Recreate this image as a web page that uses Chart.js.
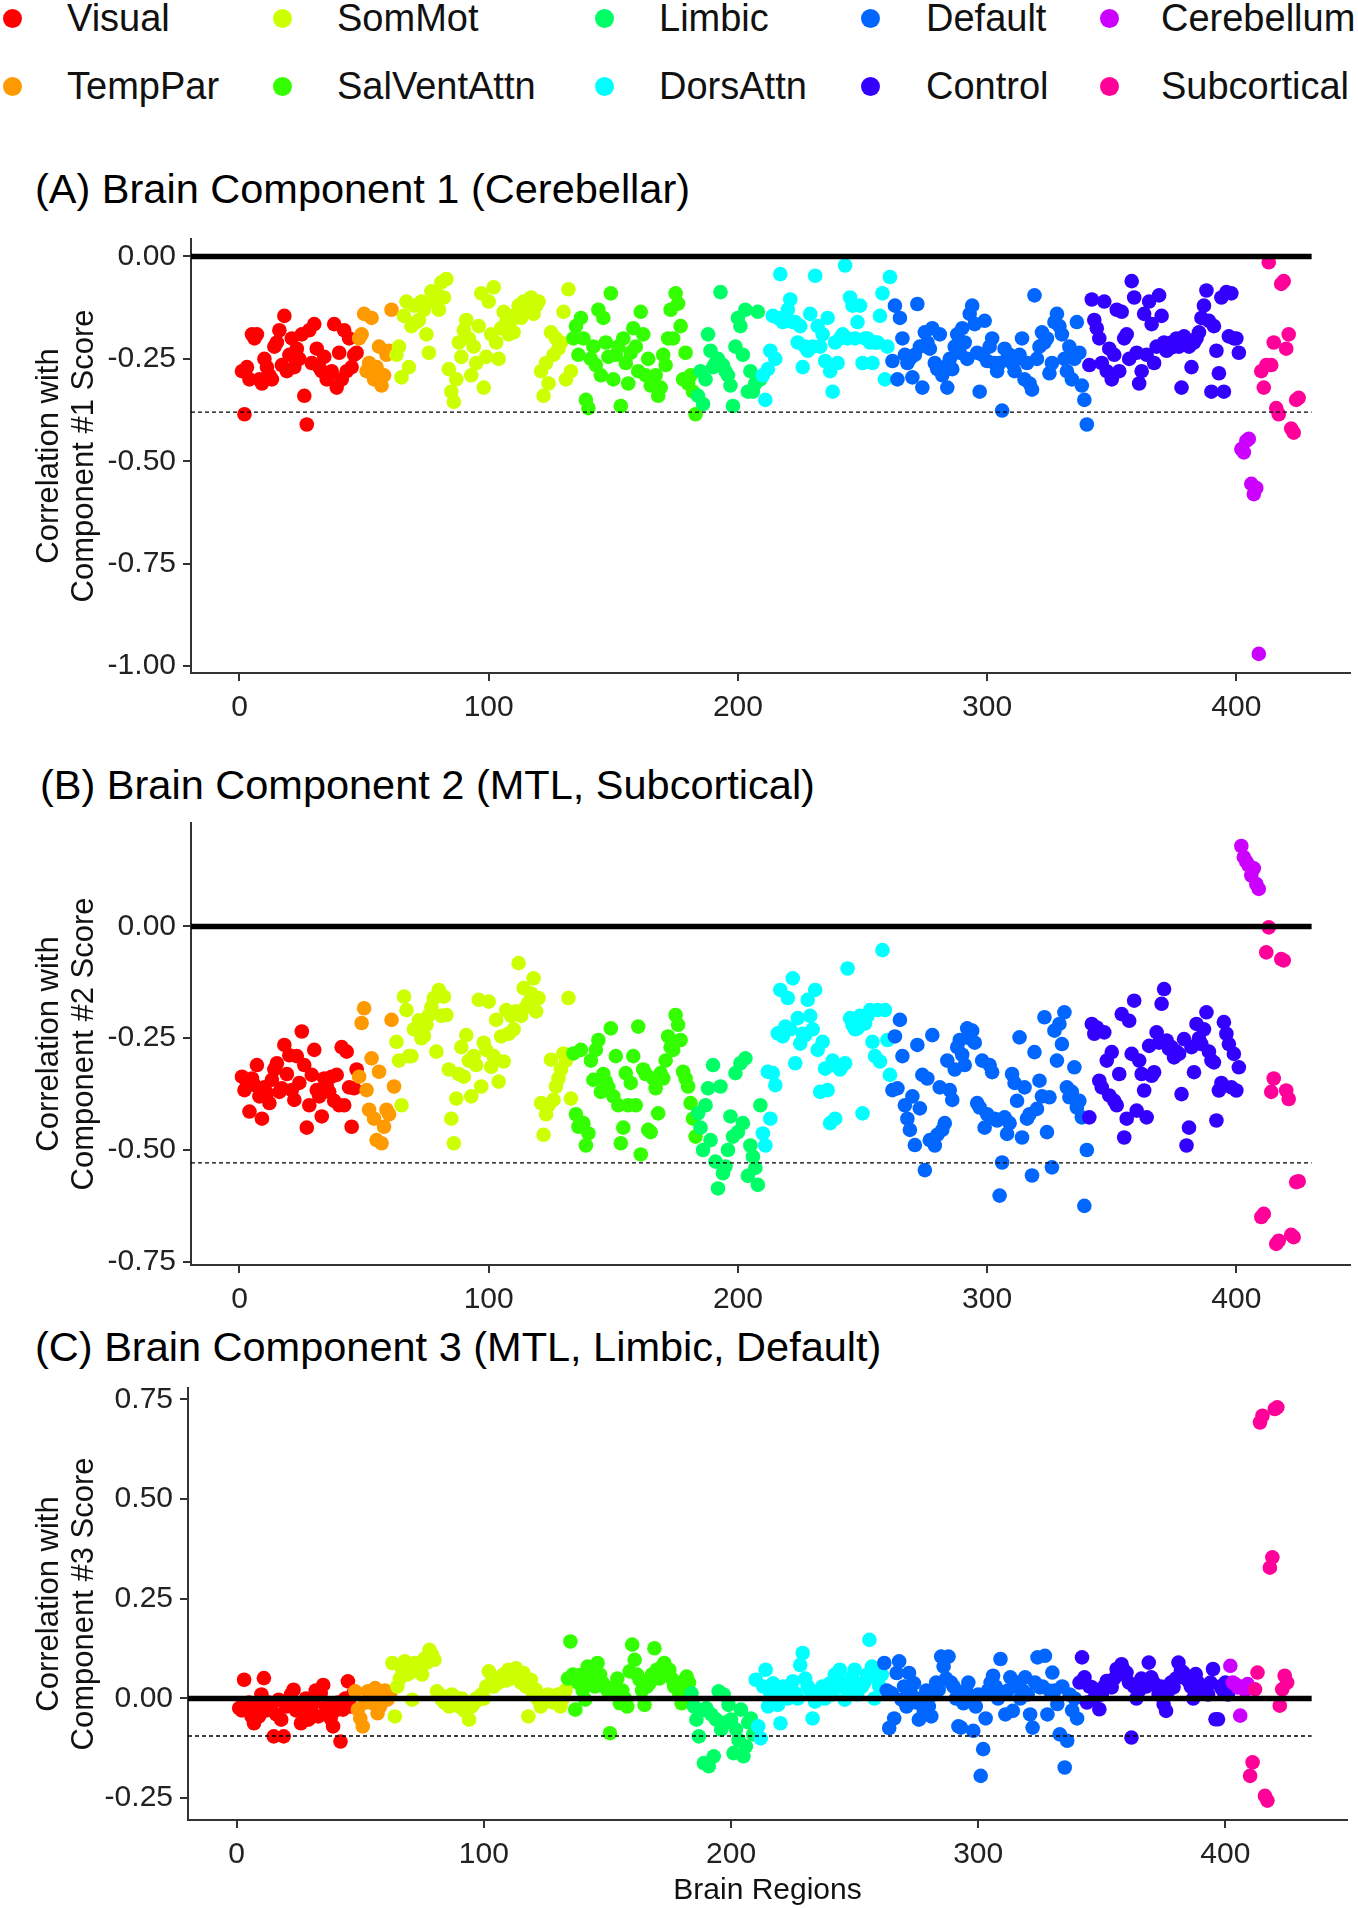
<!DOCTYPE html>
<html>
<head>
<meta charset="utf-8">
<script src="https://cdn.jsdelivr.net/npm/chart.js@4.4.1/dist/chart.umd.min.js"></script>
<style>
body { margin: 0; background: #fff; font-family: "Liberation Sans", Arial, sans-serif; }
#page { position: relative; width: 1358px; height: 1908px; overflow: hidden; }
canvas { position: absolute; left: 0; }
.title { position: absolute; font-size: 41.5px; line-height: 41px; color: #000; white-space: nowrap; }
.leg_text { position: absolute; font-size: 38px; line-height: 38px; color: #111; white-space: nowrap; }
.leg_dot { position: absolute; width: 19px; height: 19px; border-radius: 50%; }
</style>
</head>
<body>
<div id="page">
  <div class="title" style="left:35px;top:168px">(A) Brain Component 1 (Cerebellar)</div>
  <div class="title" style="left:40px;top:764px">(B) Brain Component 2 (MTL, Subcortical)</div>
  <div class="title" style="left:35px;top:1326px">(C) Brain Component 3 (MTL, Limbic, Default)</div>
  <canvas id="chart1" width="1358" height="540" style="top:199px"></canvas>
  <canvas id="chart2" width="1358" height="548" style="top:783px"></canvas>
  <canvas id="chart3" width="1358" height="560" style="top:1348px"></canvas>
</div>
<script>
// networks, in the order they run along the x axis
const networks = ['Visual', 'TempPar', 'SomMot', 'SalVentAttn', 'Limbic', 'DorsAttn', 'Default', 'Control', 'Cerebellum', 'Subcortical'];
const network_colors = ['#FF0000', '#FF9900', '#CCFF00', '#33FF00', '#00FF66', '#00FFFF', '#0066FF', '#3300FF', '#CC00FF', '#FF0099'];

// correlation of each brain region with component score, one list per network
const comp1 = [
  [-0.28,-0.385,-0.27,-0.30,-0.19,-0.20,-0.19,-0.30,-0.31,-0.25,-0.27,-0.29,-0.30,-0.22,-0.21,-0.18,-0.265,-0.145,-0.28,-0.24,-0.20,-0.27,-0.225,-0.25,-0.19,-0.34,-0.41,-0.18,-0.26,-0.165,-0.225,-0.27,-0.28,-0.245,-0.30,-0.29,-0.28,-0.165,-0.32,-0.235,-0.30,-0.18,-0.28,-0.20,-0.27,-0.24,-0.235],
  [-0.20,-0.19,-0.14,-0.28,-0.26,-0.15,-0.30,-0.27,-0.22,-0.315,-0.29,-0.24,-0.23,-0.13,-0.235],
  [-0.24,-0.22,-0.295,-0.145,-0.11,-0.27,-0.17,-0.12,-0.16,-0.155,-0.11,-0.13,-0.19,-0.235,-0.085,-0.11,-0.09,-0.13,-0.063,-0.10,-0.055,-0.275,-0.33,-0.355,-0.30,-0.21,-0.245,-0.18,-0.155,-0.20,-0.29,-0.22,-0.26,-0.17,-0.09,-0.32,-0.245,-0.11,-0.19,-0.075,-0.21,-0.25,-0.175,-0.135,-0.16,-0.19,-0.155,-0.185,-0.14,-0.12,-0.15,-0.11,-0.13,-0.12,-0.10,-0.14,-0.12,-0.11,-0.28,-0.34,-0.26,-0.31,-0.185,-0.24,-0.20,-0.225,-0.21,-0.135,-0.30,-0.08,-0.28],
  [-0.20,-0.17,-0.24,-0.15,-0.20,-0.35,-0.37,-0.25,-0.22,-0.265,-0.13,-0.29,-0.15,-0.21,-0.245,-0.09,-0.30,-0.24,-0.22,-0.365,-0.20,-0.26,-0.31,-0.235,-0.175,-0.22,-0.28,-0.135,-0.19,-0.29,-0.25,-0.315,-0.30,-0.29,-0.34,-0.32,-0.24,-0.265,-0.20,-0.13,-0.20,-0.09,-0.115,-0.17,-0.30,-0.235,-0.31,-0.29,-0.33,-0.385],
  [-0.34,-0.28,-0.36,-0.30,-0.19,-0.23,-0.27,-0.26,-0.25,-0.087,-0.265,-0.28,-0.29,-0.315,-0.365,-0.22,-0.15,-0.17,-0.24,-0.13,-0.33,-0.28,-0.33,-0.31,-0.135,-0.30],
  [-0.29,-0.35,-0.275,-0.23,-0.145,-0.25,-0.15,-0.043,-0.16,-0.15,-0.13,-0.105,-0.16,-0.16,-0.21,-0.17,-0.27,-0.22,-0.23,-0.14,-0.22,-0.047,-0.17,-0.22,-0.19,-0.255,-0.15,-0.28,-0.33,-0.21,-0.26,-0.20,-0.19,-0.022,-0.20,-0.10,-0.12,-0.20,-0.16,-0.12,-0.26,-0.20,-0.20,-0.21,-0.26,-0.21,-0.21,-0.145,-0.09,-0.30,-0.22,-0.05],
  [-0.255,-0.12,-0.30,-0.15,-0.20,-0.24,-0.26,-0.25,-0.295,-0.24,-0.116,-0.22,-0.32,-0.185,-0.21,-0.225,-0.175,-0.26,-0.275,-0.19,-0.29,-0.27,-0.32,-0.25,-0.275,-0.22,-0.19,-0.235,-0.175,-0.21,-0.25,-0.14,-0.12,-0.165,-0.235,-0.33,-0.24,-0.157,-0.255,-0.22,-0.20,-0.26,-0.28,-0.26,-0.376,-0.225,-0.25,-0.24,-0.26,-0.28,-0.25,-0.24,-0.20,-0.30,-0.26,-0.31,-0.325,-0.095,-0.25,-0.22,-0.185,-0.21,-0.20,-0.285,-0.26,-0.16,-0.14,-0.17,-0.19,-0.25,-0.28,-0.22,-0.30,-0.25,-0.16,-0.235,-0.315,-0.35,-0.41],
  [-0.265,-0.105,-0.155,-0.175,-0.20,-0.26,-0.11,-0.28,-0.225,-0.30,-0.24,-0.13,-0.28,-0.135,-0.20,-0.19,-0.25,-0.06,-0.10,-0.235,-0.31,-0.28,-0.14,-0.24,-0.11,-0.165,-0.26,-0.22,-0.095,-0.145,-0.21,-0.23,-0.225,-0.21,-0.22,-0.20,-0.22,-0.32,-0.195,-0.21,-0.22,-0.27,-0.21,-0.20,-0.185,-0.15,-0.12,-0.083,-0.157,-0.33,-0.17,-0.23,-0.285,-0.10,-0.33,-0.087,-0.195,-0.09,-0.20,-0.20,-0.235],
  [-0.47,-0.478,-0.45,-0.445,-0.555,-0.58,-0.565,-0.97],
  [-0.28,-0.32,-0.265,-0.014,-0.265,-0.21,-0.37,-0.385,-0.067,-0.06,-0.225,-0.19,-0.42,-0.43,-0.35,-0.345]
];
const comp2 = [
  [-0.336,-0.366,-0.35,-0.414,-0.34,-0.355,-0.31,-0.38,-0.43,-0.36,-0.373,-0.395,-0.343,-0.32,-0.306,-0.37,-0.362,-0.265,-0.33,-0.288,-0.366,-0.388,-0.29,-0.35,-0.235,-0.31,-0.45,-0.40,-0.332,-0.276,-0.366,-0.38,-0.425,-0.34,-0.358,-0.37,-0.336,-0.39,-0.332,-0.40,-0.27,-0.40,-0.28,-0.36,-0.448,-0.362,-0.32],
  [-0.336,-0.216,-0.183,-0.366,-0.41,-0.295,-0.43,-0.478,-0.325,-0.485,-0.448,-0.41,-0.42,-0.209,-0.358],
  [-0.258,-0.30,-0.40,-0.157,-0.187,-0.29,-0.29,-0.23,-0.228,-0.21,-0.25,-0.245,-0.22,-0.198,-0.18,-0.16,-0.28,-0.142,-0.20,-0.157,-0.198,-0.32,-0.43,-0.485,-0.385,-0.33,-0.27,-0.336,-0.243,-0.30,-0.38,-0.29,-0.31,-0.164,-0.358,-0.26,-0.276,-0.168,-0.314,-0.29,-0.209,-0.347,-0.246,-0.302,-0.187,-0.24,-0.20,-0.23,-0.19,-0.082,-0.20,-0.138,-0.18,-0.17,-0.15,-0.116,-0.19,-0.16,-0.395,-0.466,-0.42,-0.40,-0.298,-0.388,-0.358,-0.34,-0.32,-0.284,-0.30,-0.16,-0.385],
  [-0.284,-0.42,-0.448,-0.276,-0.44,-0.49,-0.463,-0.30,-0.343,-0.276,-0.254,-0.37,-0.33,-0.347,-0.36,-0.228,-0.38,-0.29,-0.40,-0.485,-0.45,-0.328,-0.40,-0.35,-0.29,-0.40,-0.224,-0.51,-0.32,-0.33,-0.455,-0.46,-0.34,-0.362,-0.418,-0.328,-0.34,-0.30,-0.246,-0.27,-0.276,-0.198,-0.22,-0.254,-0.325,-0.34,-0.358,-0.395,-0.43,-0.47],
  [-0.418,-0.45,-0.50,-0.40,-0.362,-0.478,-0.31,-0.526,-0.586,-0.358,-0.552,-0.537,-0.50,-0.425,-0.47,-0.328,-0.46,-0.306,-0.44,-0.295,-0.558,-0.49,-0.515,-0.54,-0.578,-0.40],
  [-0.463,-0.49,-0.325,-0.43,-0.328,-0.355,-0.239,-0.142,-0.246,-0.224,-0.16,-0.23,-0.116,-0.306,-0.205,-0.262,-0.24,-0.243,-0.164,-0.20,-0.23,-0.142,-0.276,-0.37,-0.258,-0.318,-0.366,-0.44,-0.30,-0.43,-0.314,-0.32,-0.31,-0.306,-0.094,-0.205,-0.22,-0.23,-0.228,-0.20,-0.418,-0.217,-0.20,-0.187,-0.258,-0.29,-0.187,-0.302,-0.053,-0.187,-0.254,-0.332],
  [-0.366,-0.246,-0.362,-0.209,-0.29,-0.40,-0.43,-0.455,-0.38,-0.489,-0.265,-0.407,-0.332,-0.545,-0.34,-0.478,-0.243,-0.49,-0.466,-0.36,-0.455,-0.44,-0.30,-0.366,-0.388,-0.32,-0.27,-0.254,-0.287,-0.31,-0.228,-0.25,-0.233,-0.26,-0.395,-0.405,-0.30,-0.45,-0.42,-0.31,-0.326,-0.43,-0.434,-0.602,-0.528,-0.427,-0.464,-0.44,-0.33,-0.35,-0.39,-0.248,-0.472,-0.36,-0.43,-0.42,-0.557,-0.281,-0.408,-0.345,-0.38,-0.203,-0.46,-0.382,-0.539,-0.233,-0.30,-0.218,-0.263,-0.192,-0.36,-0.382,-0.37,-0.315,-0.405,-0.39,-0.427,-0.625,-0.50],
  [-0.427,-0.218,-0.24,-0.226,-0.345,-0.36,-0.237,-0.30,-0.378,-0.281,-0.39,-0.40,-0.33,-0.196,-0.472,-0.43,-0.211,-0.285,-0.166,-0.412,-0.30,-0.33,-0.367,-0.427,-0.267,-0.334,-0.326,-0.237,-0.26,-0.173,-0.14,-0.255,-0.274,-0.27,-0.293,-0.28,-0.285,-0.375,-0.252,-0.49,-0.45,-0.27,-0.326,-0.218,-0.25,-0.263,-0.23,-0.192,-0.28,-0.30,-0.304,-0.434,-0.367,-0.35,-0.214,-0.24,-0.263,-0.36,-0.285,-0.367,-0.315],
  [0.18,0.155,0.145,0.136,0.114,0.13,0.095,0.084],
  [-0.65,-0.643,-0.058,-0.002,-0.37,-0.34,-0.71,-0.703,-0.073,-0.076,-0.367,-0.386,-0.69,-0.695,-0.572,-0.57]
];
const comp3 = [
  [-0.024,-0.03,0.047,-0.028,-0.01,-0.045,-0.062,-0.012,-0.045,0.01,0.051,-0.03,-0.01,-0.028,-0.095,-0.04,-0.003,-0.053,-0.095,-0.02,-0.003,0.01,0.022,-0.03,-0.02,-0.062,-0.04,0.0,-0.053,-0.03,-0.012,0.02,-0.045,0.013,0.034,-0.02,-0.012,-0.05,-0.07,-0.03,-0.01,-0.108,-0.028,0.0,0.043,-0.02,0.01],
  [0.018,-0.028,-0.05,-0.07,-0.01,0.018,0.0,-0.012,0.026,-0.037,-0.02,0.018,0.02,-0.003,0.01],
  [0.089,-0.045,0.03,0.05,0.07,0.093,0.06,0.064,-0.003,0.089,0.07,0.08,0.06,0.1,0.09,0.122,0.11,0.097,0.018,0.01,-0.003,-0.01,0.0,-0.02,0.01,0.005,-0.01,-0.02,0.0,-0.03,-0.01,-0.053,-0.02,-0.012,0.0,-0.003,0.01,0.0,0.03,0.068,0.04,0.03,0.05,0.04,0.055,0.06,0.045,0.072,0.05,0.06,0.076,0.05,0.04,0.064,0.03,-0.045,0.047,0.01,0.022,-0.003,-0.02,-0.01,-0.003,0.01,0.0,-0.01,0.0,0.01,-0.02,0.0,0.02],
  [0.05,0.143,0.06,-0.028,0.04,0.059,0.02,-0.003,0.08,0.05,0.06,0.03,0.089,0.06,0.04,0.03,0.02,-0.087,0.013,0.03,0.05,-0.012,0.02,0.0,-0.02,0.068,0.135,0.097,0.06,0.047,0.02,-0.016,0.03,0.038,0.06,0.126,0.072,0.05,0.08,0.089,0.06,0.072,0.05,0.03,0.04,0.013,-0.012,0.02,0.055,0.04],
  [0.013,-0.02,-0.053,-0.095,-0.03,-0.162,-0.024,-0.17,-0.04,-0.145,-0.053,0.018,-0.078,0.01,-0.06,-0.016,-0.053,-0.137,-0.078,-0.104,-0.028,-0.145,-0.12,-0.06,-0.05,-0.09],
  [0.047,-0.07,-0.1,0.03,0.072,-0.02,0.01,0.038,0.02,-0.016,-0.062,0.03,0.01,0.0,0.02,0.043,0.013,0.0,0.084,0.114,0.05,0.03,0.02,-0.05,-0.008,0.01,0.02,0.03,0.0,0.02,0.038,0.01,0.06,0.03,0.072,0.04,-0.003,0.02,0.04,0.055,0.072,0.01,0.03,0.03,0.04,0.06,0.147,0.08,0.0,0.05,0.03,0.06],
  [0.089,0.02,-0.074,0.013,-0.05,0.064,0.093,-0.003,0.03,-0.02,0.064,0.01,0.038,-0.01,-0.053,0.0,-0.033,0.02,-0.02,-0.045,0.01,0.04,0.022,0.105,0.08,0.05,0.105,0.04,0.03,0.0,-0.07,-0.073,-0.012,0.02,0.04,0.0,-0.081,-0.02,0.01,-0.194,-0.127,-0.05,0.02,0.04,0.057,0.03,0.0,0.099,0.011,-0.04,0.02,0.053,-0.031,0.04,0.03,0.0,0.02,0.053,0.01,-0.04,-0.073,0.04,0.103,0.028,0.03,0.107,-0.04,0.019,0.065,0.02,-0.014,-0.09,0.03,-0.173,-0.106,0.01,-0.03,0.0,-0.05],
  [0.04,0.103,0.053,-0.01,0.03,0.028,0.0,0.02,-0.027,0.01,0.03,0.044,0.04,0.028,0.05,0.074,0.06,0.086,0.07,0.065,0.04,-0.098,0.03,0.0,0.019,0.05,0.04,0.03,0.09,0.053,0.04,0.032,0.01,0.03,-0.014,-0.031,0.02,0.04,0.028,0.05,0.09,0.07,0.065,0.05,0.044,0.03,0.0,0.061,0.04,0.02,0.028,0.03,0.01,0.04,0.074,-0.052,-0.052,0.03,0.02,0.04,0.01],
  [0.082,0.04,0.036,0.028,-0.043,0.03,0.02,0.036],
  [-0.194,-0.16,0.023,0.065,0.692,0.709,-0.244,-0.256,0.328,0.354,0.726,0.73,-0.018,0.023,0.057,0.04]
];

// dotted significance cut-off per component
const thresholds = [-0.38, -0.529, -0.094];

// tick labels
const x_ticks = [0, 100, 200, 300, 400];
const y_ticks1 = [0, -0.25, -0.5, -0.75, -1];
const y_ticks2 = [0, -0.25, -0.5, -0.75];
const y_ticks3 = [0.75, 0.5, 0.25, 0, -0.25];

const FONT = '"Liberation Sans", Arial, sans-serif';

// legend, ggplot style: 5 columns x 2 rows, filled column by column
const leg_cols = [[12, 67], [282, 337], [604, 659], [870, 926], [1109, 1161]];
const leg_rows = [18, 86];
const page = document.getElementById('page');
networks.forEach(function(name, i){
    const col = leg_cols[Math.floor(i / 2)];
    const cy = leg_rows[i % 2];
    const dot = document.createElement('div');
    dot.className = 'leg_dot';
    dot.style.left = (col[0] - 9.5) + 'px';
    dot.style.top = (cy - 9.5) + 'px';
    dot.style.background = network_colors[i];
    page.appendChild(dot);
    const txt = document.createElement('div');
    txt.className = 'leg_text';
    txt.style.left = col[1] + 'px';
    txt.style.top = (cy - 18.6) + 'px';
    txt.textContent = name;
    page.appendChild(txt);
});

function build_datasets(values, x_min, line_end, threshold){
    const sets = [];
    let idx = 1;
    values.forEach(function(list, k){
        const pts = list.map(function(v){ return {x: idx++, y: v}; });
        sets.push({
            label: networks[k],
            data: pts,
            backgroundColor: network_colors[k],
            borderWidth: 0,
            pointRadius: 7.3,
            pointHoverRadius: 7.3,
            order: 20 - k
        });
    });
    sets.push({
        label: 'zero',
        data: [{x: x_min, y: 0}, {x: line_end, y: 0}],
        showLine: true, borderColor: '#000', borderWidth: 5.7,
        pointRadius: 0, order: 1
    });
    sets.push({
        label: 'cutoff',
        data: [{x: x_min, y: threshold}, {x: line_end, y: threshold}],
        showLine: true, borderColor: '#000', borderWidth: 1.3, borderDash: [4, 3],
        pointRadius: 0, order: 0
    });
    return sets;
}

function draw_panel(p){
    const ctx = document.getElementById(p.id).getContext('2d');
    new Chart(ctx, {
        type: 'scatter',
        data: { datasets: build_datasets(p.values, p.x_min, p.line_end, p.threshold) },
        options: {
            responsive: false,
            animation: false,
            devicePixelRatio: 1,
            events: [],
            layout: { padding: { top: 40, right: p.pad_right, left: 0, bottom: 0 } },
            plugins: { legend: { display: false }, tooltip: { enabled: false } },
            scales: {
                x: {
                    type: 'linear', min: p.x_min, max: p.x_max,
                    afterBuildTicks: function(s){ s.ticks = x_ticks.map(function(v){ return {value: v}; }); },
                    afterFit: function(s){ s.height = p.axis_h; },
                    grid: { display: true, drawOnChartArea: false, drawTicks: true, tickLength: 8, color: '#333', lineWidth: 2 },
                    border: { display: true, color: '#333', width: 2 },
                    ticks: {
                        font: { size: 30, family: FONT }, color: '#222', padding: 9, maxRotation: 0,
                        callback: function(value){ return String(value); }
                    },
                    title: {
                        display: p.x_title !== '', text: p.x_title, color: '#111',
                        font: { size: 30, family: FONT, lineHeight: 1.1 }, padding: { top: 0, bottom: 1 }
                    }
                },
                y: {
                    type: 'linear', min: p.y_min, max: p.y_max,
                    afterBuildTicks: function(s){ s.ticks = p.y_ticks.map(function(v){ return {value: v}; }); },
                    afterFit: function(s){ s.width = p.left; },
                    grid: { display: true, drawOnChartArea: false, drawTicks: true, tickLength: 8, color: '#333', lineWidth: 2 },
                    border: { display: true, color: '#333', width: 2 },
                    ticks: {
                        font: { size: 30, family: FONT }, color: '#222', padding: 7,
                        callback: function(value){ return value.toFixed(2); }
                    },
                    title: {
                        display: true, text: p.y_title, color: '#111',
                        font: { size: 31, family: FONT, lineHeight: 1.16 }, padding: { top: 31, bottom: 0 }
                    }
                }
            }
        }
    });
}

const panels = [
    { id: 'chart1', values: comp1, y_ticks: y_ticks1, y_min: -1.0166, y_max: 0.0427, x_min: -19.46, x_max: 445.6,
      line_end: 430.2, threshold: thresholds[0], y_title: ['Correlation with', 'Component #1 Score'], x_title: '',
      left: 191, pad_right: 8, axis_h: 66 },
    { id: 'chart2', values: comp2, y_ticks: y_ticks2, y_min: -0.7573, y_max: 0.2315, x_min: -19.46, x_max: 445.6,
      line_end: 430.2, threshold: thresholds[1], y_title: ['Correlation with', 'Component #2 Score'], x_title: '',
      left: 191, pad_right: 8, axis_h: 66 },
    { id: 'chart3', values: comp3, y_ticks: y_ticks3, y_min: -0.3047, y_max: 0.7786, x_min: -19.7, x_max: 449.2,
      line_end: 434.9, threshold: thresholds[2], y_title: ['Correlation with', 'Component #3 Score'], x_title: 'Brain Regions',
      left: 188, pad_right: 11, axis_h: 88 }
];
panels.forEach(draw_panel);
</script>
</body>
</html>
